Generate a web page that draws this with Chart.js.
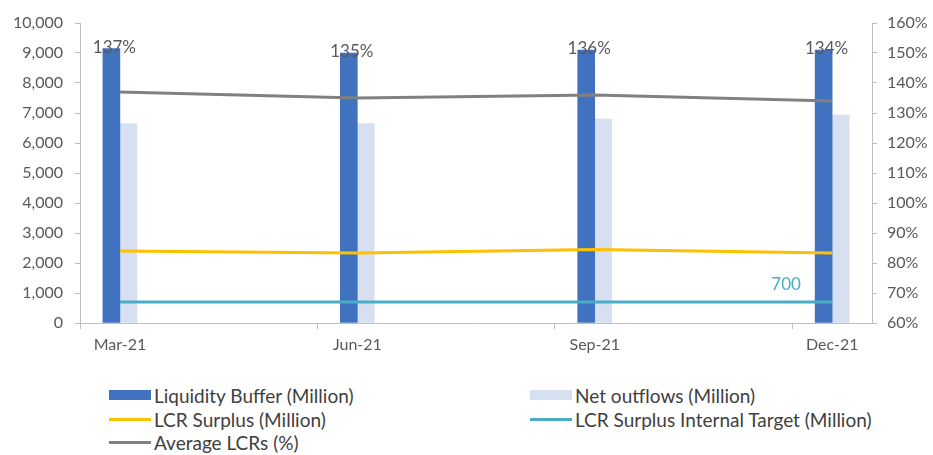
<!DOCTYPE html>
<html>
<head>
<meta charset="utf-8">
<script src="https://cdn.jsdelivr.net/npm/chart.js@4/dist/chart.umd.min.js"></script>
<style>
  html, body { margin: 0; padding: 0; background: #fff; }
  #wrap { position: relative; width: 933px; height: 455px; }
  #chart { position: absolute; left: 0; top: 0; }
  #legend { position: absolute; left: 0; top: 384px; width: 933px; font-family: Lato, "Open Sans", sans-serif; font-size: 19px; color: #404040; }
  .item { position: absolute; display: flex; align-items: center; height: 22px; white-space: nowrap; }
  .swatch { width: 42px; margin-right: 3px; }
</style>
</head>
<body>
<div id="wrap">
  <canvas id="chart" width="933" height="372"></canvas>
  <div id="legend"></div>
</div>
<script>
// Quarter-end categories
const quarters = ['Mar-21', 'Jun-21', 'Sep-21', 'Dec-21'];

// Amounts in millions
const liquidityBuffer = [9150, 9000, 9100, 9100];
const netOutflows = [6650, 6650, 6800, 6930];
const lcrSurplus = [2400, 2330, 2450, 2330];
const surplusTarget = [700, 700, 700, 700];

// Average LCR, percent
const averageLcr = [137, 135, 136, 134];

// Axis tick settings
const leftTicks = { min: 0, max: 10000, step: 1000 };
const rightTicks = { min: 60, max: 160, step: 10 };

const COLORS = {
  buffer: '#4072C0',
  outflows: '#D6E0F0',
  surplus: '#FFC000',
  target: '#4BACC6',
  lcr: '#808080',
  text: '#595959',
  axis: '#BFBFBF'
};

const FONT = 'Lato, "Open Sans", sans-serif';

const asPoints = vals => vals.map((v, i) => ({ x: i, y: v }));

// offset of the category tick marks from the category centre, in category units
const TICK_SHIFT = 0.168;

// Value labels above the buffer bars, plus the target label
const valueLabels = {
  id: 'valueLabels',
  afterDatasetsDraw(chart) {
    const ctx = chart.ctx;
    ctx.save();
    const barMeta = chart.getDatasetMeta(0);
    ctx.font = '17px ' + FONT;
    ctx.fillStyle = COLORS.text;
    ctx.textAlign = 'center';
    ctx.textBaseline = 'middle';
    barMeta.data.forEach((bar, i) => {
      ctx.fillText(averageLcr[i] + '%', bar.x + 3, bar.y - 1);
    });
    const tMeta = chart.getDatasetMeta(3);
    const last = tMeta.data[tMeta.data.length - 1];
    ctx.font = '17px ' + FONT;
    ctx.fillStyle = COLORS.target;
    ctx.fillText(String(surplusTarget[surplusTarget.length - 1]), last.x - 46, last.y - 17);
    ctx.restore();
  }
};

const chart = new Chart(document.getElementById('chart'), {
  type: 'bar',
  data: {
    datasets: [
      { type: 'bar', label: 'Liquidity Buffer (Million)', data: asPoints(liquidityBuffer),
        backgroundColor: COLORS.buffer, yAxisID: 'y', barThickness: 17, order: 2 },
      { type: 'bar', label: 'Net outflows (Million)', data: asPoints(netOutflows),
        backgroundColor: COLORS.outflows, yAxisID: 'y', barThickness: 17, order: 2 },
      { type: 'line', label: 'LCR Surplus (Million)', data: asPoints(lcrSurplus),
        borderColor: COLORS.surplus, backgroundColor: COLORS.surplus, borderWidth: 3,
        pointRadius: 0, yAxisID: 'y', order: 1 },
      { type: 'line', label: 'LCR Surplus Internal Target (Million)', data: asPoints(surplusTarget),
        borderColor: COLORS.target, backgroundColor: COLORS.target, borderWidth: 3,
        pointRadius: 0, yAxisID: 'y', order: 1 },
      { type: 'line', label: 'Average LCRs (%)', data: asPoints(averageLcr),
        borderColor: COLORS.lcr, backgroundColor: COLORS.lcr, borderWidth: 3,
        pointRadius: 0, yAxisID: 'y2', order: 0 }
    ]
  },
  options: {
    responsive: false,
    animation: false,
    layout: { padding: { top: 23, left: 0, right: 0, bottom: 0 } },
    plugins: { legend: { display: false }, tooltip: { enabled: false } },
    scales: {
      x: {
        type: 'linear',
        offset: false,
        min: -TICK_SHIFT,
        max: quarters.length - 1 + TICK_SHIFT,
        afterBuildTicks: s => { s.ticks = quarters.map((q, i) => ({ value: i - TICK_SHIFT })); },
        ticks: {
          callback: (v, i) => quarters[i],
          labelOffset: 40,
          padding: 6,
          color: COLORS.text,
          font: { family: FONT, size: 16 },
          maxRotation: 0,
          autoSkip: false
        },
        grid: { drawOnChartArea: false, offset: false, tickLength: 6, color: COLORS.axis },
        border: { color: COLORS.axis },
        afterFit: s => { s.height = 372 - 323; }
      },
      y: {
        position: 'left',
        min: leftTicks.min,
        max: leftTicks.max,
        ticks: {
          stepSize: leftTicks.step,
          padding: 12,
          color: COLORS.text,
          font: { family: FONT, size: 16 },
          callback: v => v.toLocaleString('en-US')
        },
        grid: { drawOnChartArea: false, tickLength: 5, color: COLORS.axis },
        border: { color: COLORS.axis },
        afterFit: s => { s.width = 80; }
      },
      y2: {
        position: 'right',
        min: rightTicks.min,
        max: rightTicks.max,
        ticks: {
          stepSize: rightTicks.step,
          padding: 10,
          color: COLORS.text,
          font: { family: FONT, size: 16 },
          callback: v => v + '%'
        },
        grid: { drawOnChartArea: false, tickLength: 5, color: COLORS.axis },
        border: { color: COLORS.axis },
        afterFit: s => { s.width = 933 - 872; }
      }
    }
  },
  plugins: [valueLabels]
});

// Two-column legend built from the chart's datasets
const legendSpots = [
  { x: 109, y: 0 }, { x: 530, y: 0 },
  { x: 109, y: 24 }, { x: 530, y: 24 },
  { x: 109, y: 47 }
];
const legendEl = document.getElementById('legend');
chart.data.datasets.forEach((ds, i) => {
  const spot = legendSpots[i];
  const item = document.createElement('div');
  item.className = 'item';
  item.style.left = spot.x + 'px';
  item.style.top = spot.y + 'px';
  const sw = document.createElement('span');
  sw.className = 'swatch';
  if (ds.type === 'bar') {
    sw.style.height = '10px';
    sw.style.background = ds.backgroundColor;
  } else {
    sw.style.height = '3px';
    sw.style.background = ds.borderColor;
  }
  const label = document.createElement('span');
  label.textContent = ds.label;
  item.appendChild(sw);
  item.appendChild(label);
  legendEl.appendChild(item);
});
</script>
</body>
</html>
